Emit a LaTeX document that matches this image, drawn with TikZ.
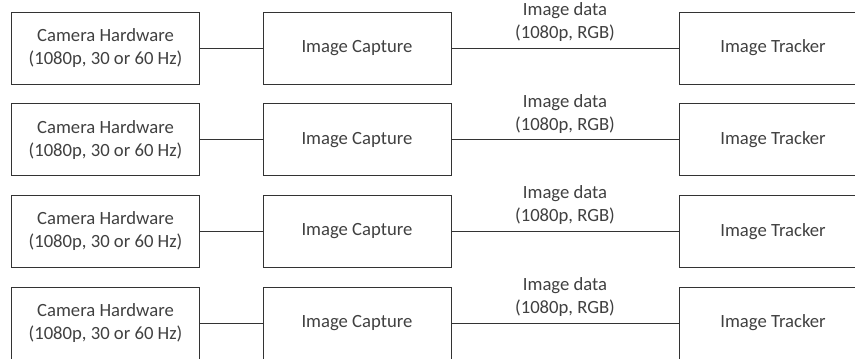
\documentclass[tikz,border=0pt]{standalone}
\usepackage{fontspec}
\setmainfont{Carlito}
\usetikzlibrary{calc}

\begin{document}
\begin{tikzpicture}[x=0.75pt,y=-0.75pt,
    blocknode/.style={rectangle, draw=black!80, line width=0.75pt, minimum width=141pt, minimum height=54pt,
        align=center, text=black!75, font=\fontsize{14}{17.25}\selectfont},
    datalabel/.style={above, inner sep=0pt, yshift=4.5pt, align=center, text=black!75,
        font=\fontsize{14}{17.25}\selectfont}
    ]
    \tikzset{link/.style={draw=black!80, line width=0.75pt}}
    \useasboundingbox (0,0) rectangle (855,358);
    %
    %vertices
    %
    \node[blocknode] (cam1) at (105.5,48) {Camera Hardware\\(1080p, 30 or 60 Hz)};
    \node[blocknode] (cap1) at (357,48) {Image Capture};
    \node[blocknode] (trk1) at (773,48) {Image Tracker};
    \node[blocknode] (cam2) at (105.5,139.7) {Camera Hardware\\(1080p, 30 or 60 Hz)};
    \node[blocknode] (cap2) at (357,139.7) {Image Capture};
    \node[blocknode] (trk2) at (773,139.7) {Image Tracker};
    \node[blocknode] (cam3) at (105.5,231.3) {Camera Hardware\\(1080p, 30 or 60 Hz)};
    \node[blocknode] (cap3) at (357,231.3) {Image Capture};
    \node[blocknode] (trk3) at (773,231.3) {Image Tracker};
    \node[blocknode] (cam4) at (105.5,323) {Camera Hardware\\(1080p, 30 or 60 Hz)};
    \node[blocknode] (cap4) at (357,323) {Image Capture};
    \node[blocknode] (trk4) at (773,323) {Image Tracker};
    %
    %edges
    %
    \draw[link] (cam1) -- (cap1);
    \draw[link] (cap1) -- node[datalabel] {Image data\\(1080p, RGB)} (trk1);
    \draw[link] (cam2) -- (cap2);
    \draw[link] (cap2) -- node[datalabel] {Image data\\(1080p, RGB)} (trk2);
    \draw[link] (cam3) -- (cap3);
    \draw[link] (cap3) -- node[datalabel] {Image data\\(1080p, RGB)} (trk3);
    \draw[link] (cam4) -- (cap4);
    \draw[link] (cap4) -- node[datalabel] {Image data\\(1080p, RGB)} (trk4);
\end{tikzpicture}
\end{document}
